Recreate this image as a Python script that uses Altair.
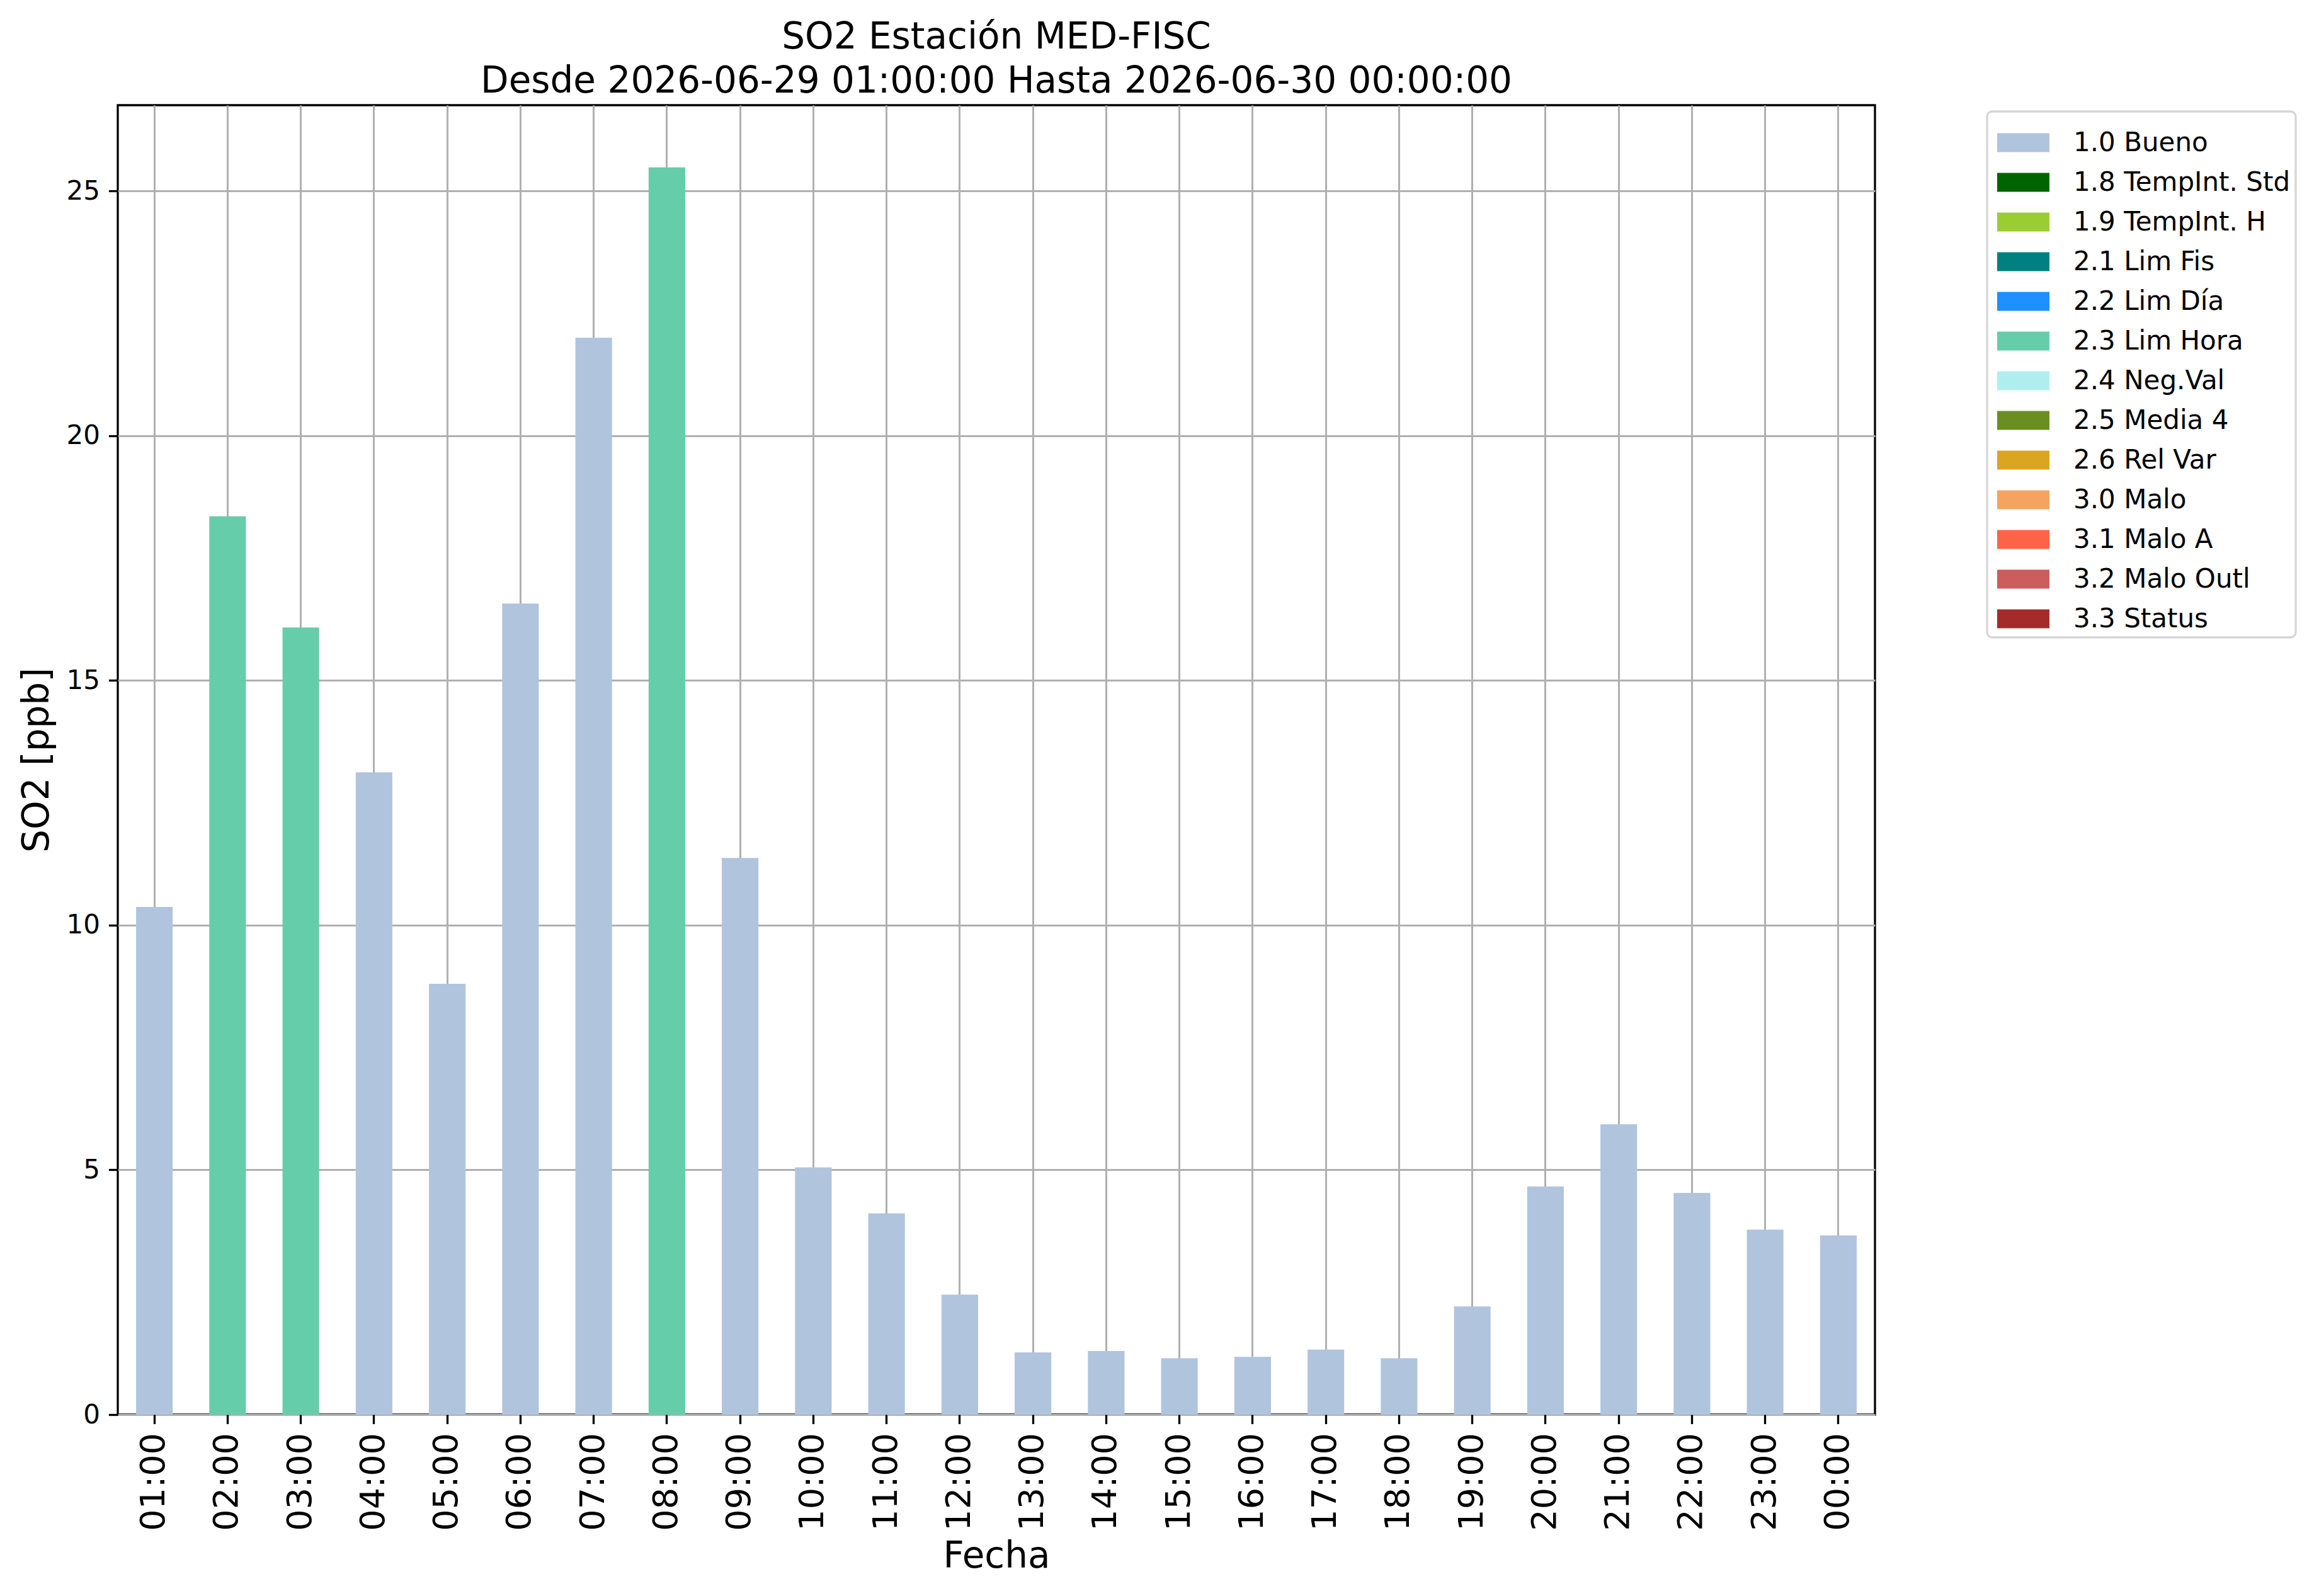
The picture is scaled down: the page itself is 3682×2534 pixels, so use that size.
import altair as alt
import pandas as pd

hours = ["01:00", "02:00", "03:00", "04:00", "05:00", "06:00", "07:00", "08:00",
         "09:00", "10:00", "11:00", "12:00", "13:00", "14:00", "15:00", "16:00",
         "17:00", "18:00", "19:00", "20:00", "21:00", "22:00", "23:00", "00:00"]
values = [10.37, 18.35, 16.08, 13.12, 8.80, 16.57, 22.0, 25.48,
          11.37, 5.05, 4.11, 2.45, 1.27, 1.30, 1.15, 1.18,
          1.33, 1.15, 2.21, 4.66, 5.93, 4.53, 3.78, 3.66]
flags = ["1.0 Bueno", "2.3 Lim Hora", "2.3 Lim Hora", "1.0 Bueno", "1.0 Bueno",
         "1.0 Bueno", "1.0 Bueno", "2.3 Lim Hora", "1.0 Bueno", "1.0 Bueno",
         "1.0 Bueno", "1.0 Bueno", "1.0 Bueno", "1.0 Bueno", "1.0 Bueno",
         "1.0 Bueno", "1.0 Bueno", "1.0 Bueno", "1.0 Bueno", "1.0 Bueno",
         "1.0 Bueno", "1.0 Bueno", "1.0 Bueno", "1.0 Bueno"]

flag_labels = ["1.0 Bueno", "1.8 TempInt. Std", "1.9 TempInt. H", "2.1 Lim Fis",
               "2.2 Lim Día", "2.3 Lim Hora", "2.4 Neg.Val", "2.5 Media 4",
               "2.6 Rel Var", "3.0 Malo", "3.1 Malo A", "3.2 Malo Outl", "3.3 Status"]
flag_colors = ["#B0C4DE", "#006400", "#9ACD32", "#008080", "#1E90FF", "#66CDAA",
               "#AFEEEE", "#6B8E23", "#DAA520", "#F4A460", "#FF6347", "#CD5C5C",
               "#A52A2A"]

y_ticks = [0, 5, 10, 15, 20, 25]

df = pd.DataFrame({"Fecha": hours, "SO2": values, "Flag": flags})

FONT = "DejaVu Sans"

chart = alt.Chart(df).mark_bar(opacity=1, strokeWidth=0).encode(
    x=alt.X("Fecha:N", sort=hours,
            scale=alt.Scale(paddingInner=0.5, paddingOuter=0.25),
            axis=alt.Axis(title="Fecha", labelAngle=270, labelFontSize=54,
                          labelPadding=14, titleFontSize=58, titlePadding=12,
                          bandPosition=0.5)),
    y=alt.Y("SO2:Q", scale=alt.Scale(domain=[0, 26.75], nice=False, zero=True),
            axis=alt.Axis(title="SO2 [ppb]", values=y_ticks, labelFontSize=42,
                          labelPadding=14, titleFontSize=58, titlePadding=16)),
    color=alt.Color("Flag:N",
                    scale=alt.Scale(domain=flag_labels, range=flag_colors),
                    legend=alt.Legend(
                        title=None, orient="none", legendX=2968, legendY=10,
                        symbolType="M-1,-0.36L1,-0.36L1,0.36L-1,0.36Z",
                        symbolSize=6889, symbolStrokeWidth=0, symbolOpacity=1,
                        symbolOffset=8,
                        labelFontSize=42, labelFont=FONT, labelOffset=38,
                        labelLimit=0, rowPadding=0, padding=8,
                        strokeColor="#d6d6d6",
                        cornerRadius=8, fillColor="white")),
).properties(
    width=2790,
    height=2079,
    title=alt.TitleParams(
        text=["SO2 Estación MED-FISC",
              "Desde 2026-06-29 01:00:00 Hasta 2026-06-30 00:00:00"],
        fontSize=58, font=FONT, fontWeight="normal", lineHeight=70,
        anchor="middle", offset=8, color="black"),
    autosize=alt.AutoSizeParams(type="none"),
    padding={"left": 179, "top": 159, "right": 689, "bottom": 272},
).configure_view(
    stroke="black", strokeWidth=3.3
).configure_legend(
    strokeWidth=3.3
).configure_axis(
    labelFont=FONT, titleFont=FONT, labelColor="black", titleColor="black",
    titleFontWeight="normal", grid=True, gridColor="#b0b0b0", gridWidth=3,
    tickColor="black", tickWidth=3.3, tickSize=14.6, domain=False, zindex=1
)

chart.save("out.html", embed_options={"renderer": "svg", "actions": False})
